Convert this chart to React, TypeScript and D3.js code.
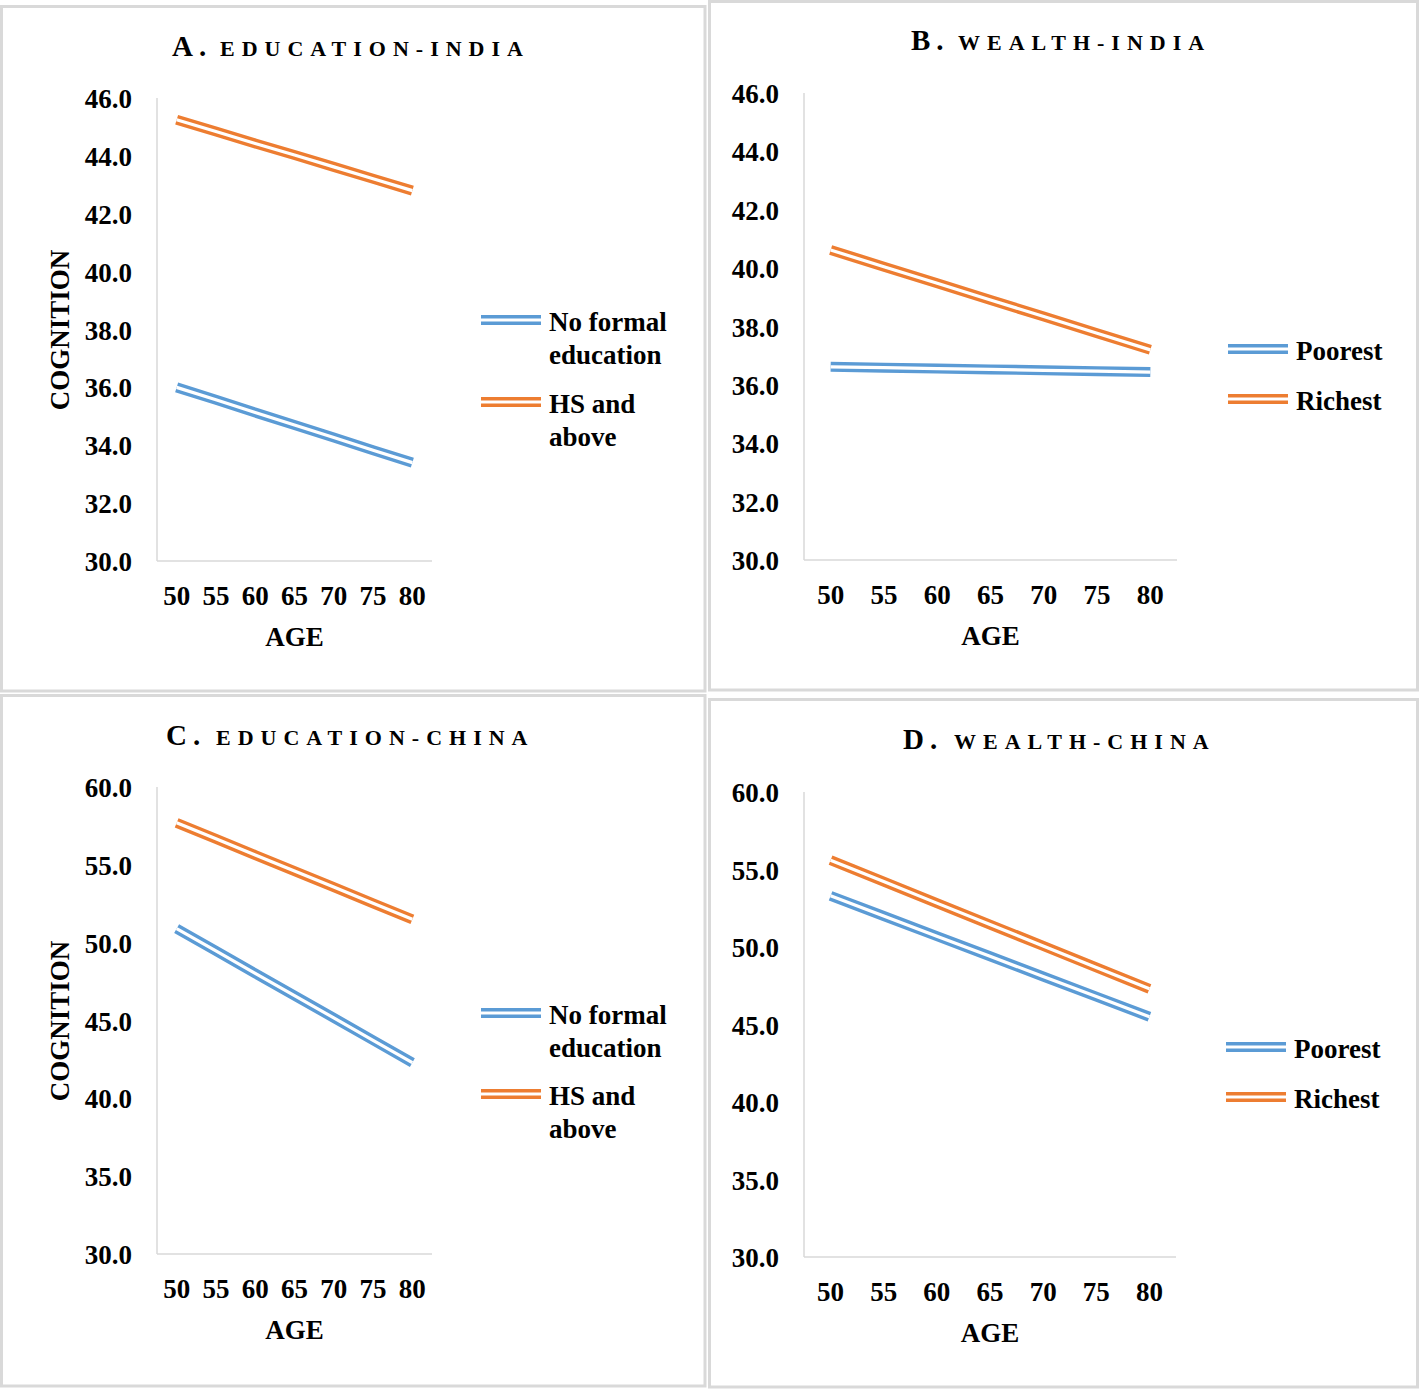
import React from "react";
import * as d3 from "d3";

const ages = ["50", "55", "60", "65", "70", "75", "80"];

// Panel A: Education - India
const indiaNoFormal = [36.0, 35.57, 35.13, 34.7, 34.27, 33.83, 33.4];
const indiaHS = [45.25, 44.84, 44.43, 44.03, 43.62, 43.21, 42.8];
// Panel B: Wealth - India
const indiaPoorest = [36.62, 36.59, 36.56, 36.53, 36.5, 36.47, 36.44];
const indiaRichest = [40.62, 40.05, 39.48, 38.91, 38.34, 37.77, 37.2];
// Panel C: Education - China
const chinaNoFormal = [50.9, 49.47, 48.03, 46.6, 45.17, 43.73, 42.3];
const chinaHS = [57.7, 56.67, 55.63, 54.6, 53.57, 52.53, 51.5];
// Panel D: Wealth - China
const chinaPoorest = [53.3, 52.0, 50.7, 49.4, 48.1, 46.8, 45.5];
const chinaRichest = [55.6, 54.22, 52.83, 51.45, 50.07, 48.68, 47.3];

const indiaTicks = [30, 32, 34, 36, 38, 40, 42, 44, 46];
const chinaTicks = [30, 35, 40, 45, 50, 55, 60];

const eduLegend = [["No formal", "education"], ["HS and", "above"]];
const wealthLegend = [["Poorest"], ["Richest"]];

const BLUE = "#5B9BD5";
const ORANGE = "#ED7D31";
const BORDER = "#d9d9d9";
const AXIS = "#d9d9d9";
const FONT = "'Liberation Serif', 'Times New Roman', serif";

type Panel = {
  box: [number, number, number, number];
  letter: string;
  title: string;
  letterX: number;
  titleX: number;
  titleY: number;
  plot: { x0: number; x1: number; yTop: number; yBot: number };
  ticks: number[];
  series: number[][];
  legend: string[][];
  legendX: number;
  legendY: number[];
  xLabelY: number;
  ageY: number;
  cognition: number | null;
};

const panels: Panel[] = [
  {
    box: [1.5, 6.5, 703.5, 684.5],
    letter: "A.",
    title: "EDUCATION-INDIA",
    letterX: 172,
    titleX: 220,
    titleY: 56,
    plot: { x0: 157, x1: 432, yTop: 98, yBot: 561 },
    ticks: indiaTicks,
    series: [indiaNoFormal, indiaHS],
    legend: eduLegend,
    legendX: 481,
    legendY: [320, 402],
    xLabelY: 605,
    ageY: 646,
    cognition: 330,
  },
  {
    box: [709.5, 1.5, 708, 688.5],
    letter: "B.",
    title: "WEALTH-INDIA",
    letterX: 911,
    titleX: 958,
    titleY: 50,
    plot: { x0: 804, x1: 1177, yTop: 93, yBot: 560 },
    ticks: indiaTicks,
    series: [indiaPoorest, indiaRichest],
    legend: wealthLegend,
    legendX: 1228,
    legendY: [349, 399],
    xLabelY: 604,
    ageY: 645,
    cognition: null,
  },
  {
    box: [1.5, 695.5, 703.5, 690.5],
    letter: "C.",
    title: "EDUCATION-CHINA",
    letterX: 166,
    titleX: 216,
    titleY: 745,
    plot: { x0: 157, x1: 432, yTop: 787, yBot: 1254 },
    ticks: chinaTicks,
    series: [chinaNoFormal, chinaHS],
    legend: eduLegend,
    legendX: 481,
    legendY: [1013, 1094],
    xLabelY: 1298,
    ageY: 1339,
    cognition: 1021,
  },
  {
    box: [709.5, 699.5, 708, 687.5],
    letter: "D.",
    title: "WEALTH-CHINA",
    letterX: 903,
    titleX: 954,
    titleY: 749,
    plot: { x0: 804, x1: 1176, yTop: 792, yBot: 1257 },
    ticks: chinaTicks,
    series: [chinaPoorest, chinaRichest],
    legend: wealthLegend,
    legendX: 1226,
    legendY: [1047, 1097],
    xLabelY: 1301,
    ageY: 1342,
    cognition: null,
  },
];

const colors = [BLUE, ORANGE];

function DoubleLine({ d, color }: { d: string; color: string }) {
  return (
    <g>
      <path d={d} fill="none" stroke={color} strokeWidth={10} />
      <path d={d} fill="none" stroke="#fff" strokeWidth={3.2} />
    </g>
  );
}

function PanelView({ p }: { p: Panel }) {
  const x = d3
    .scaleBand<string>()
    .domain(ages)
    .range([p.plot.x0, p.plot.x1]);
  const y = d3
    .scaleLinear()
    .domain([p.ticks[0], p.ticks[p.ticks.length - 1]])
    .range([p.plot.yBot, p.plot.yTop]);
  const cx = (a: string) => (x(a) as number) + x.bandwidth() / 2;
  const line = d3
    .line<number>()
    .x((_, i) => cx(ages[i]))
    .y((v) => y(v));
  const fmt = d3.format(".1f");
  const midX = (p.plot.x0 + p.plot.x1) / 2;

  return (
    <g fontFamily={FONT} fontWeight="bold" fill="#000">
      <rect
        x={p.box[0]}
        y={p.box[1]}
        width={p.box[2]}
        height={p.box[3]}
        fill="#fff"
        stroke={BORDER}
        strokeWidth={3}
      />
      <text x={p.letterX} y={p.titleY} fontSize={29} style={{ letterSpacing: "6px" }}>
        {p.letter}
      </text>
      <text x={p.titleX} y={p.titleY} fontSize={22} style={{ letterSpacing: "7px" }}>
        {p.title}
      </text>
      <line x1={p.plot.x0} x2={p.plot.x0} y1={p.plot.yTop} y2={p.plot.yBot} stroke={AXIS} strokeWidth={1.5} />
      <line x1={p.plot.x0} x2={p.plot.x1} y1={p.plot.yBot} y2={p.plot.yBot} stroke={AXIS} strokeWidth={1.5} />
      {p.ticks.map((t) => (
        <text key={t} x={p.plot.x0 - 25} y={y(t) + 10} fontSize={27} textAnchor="end">
          {fmt(t)}
        </text>
      ))}
      {ages.map((a) => (
        <text key={a} x={cx(a)} y={p.xLabelY} fontSize={27} textAnchor="middle">
          {a}
        </text>
      ))}
      <text x={midX} y={p.ageY} fontSize={27} textAnchor="middle">
        AGE
      </text>
      {p.cognition !== null && (
        <text
          transform={`translate(69,${p.cognition}) rotate(-90)`}
          fontSize={27}
          textAnchor="middle"
        >
          COGNITION
        </text>
      )}
      {p.series.map((s, i) => (
        <DoubleLine key={i} d={line(s) as string} color={colors[i]} />
      ))}
      {p.legend.map((lines, i) => (
        <g key={i}>
          <DoubleLine
            d={`M${p.legendX},${p.legendY[i]}H${p.legendX + 60}`}
            color={colors[i]}
          />
          {lines.map((t, j) => (
            <text key={j} x={p.legendX + 68} y={p.legendY[i] + 11 + j * 33} fontSize={27}>
              {t}
            </text>
          ))}
        </g>
      ))}
    </g>
  );
}

export default function App() {
  return (
    <div style={{ position: "absolute", left: 0, top: 0 }}>
      <svg width={1420} height={1389} style={{ display: "block", background: "#fff" }}>
        {panels.map((p, i) => (
          <PanelView key={i} p={p} />
        ))}
      </svg>
    </div>
  );
}
